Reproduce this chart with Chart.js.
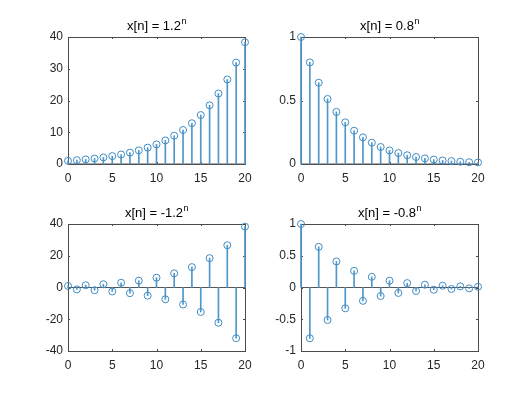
<!DOCTYPE html>
<html>
<head>
<meta charset="utf-8">
<script src="https://cdn.jsdelivr.net/npm/chart.js@4/dist/chart.umd.min.js"></script>
<style>
html,body{margin:0;padding:0;background:#fff;}
body{width:528px;height:395px;position:relative;overflow:hidden;}
canvas{position:absolute;}
</style>
</head>
<body>
<canvas id="c1"></canvas>
<canvas id="c2"></canvas>
<canvas id="c3"></canvas>
<canvas id="c4"></canvas>
<script>
// ---- data ----
const n = [0,1,2,3,4,5,6,7,8,9,10,11,12,13,14,15,16,17,18,19,20];
const growth = [1,1.2,1.44,1.73,2.07,2.49,2.99,3.58,4.3,5.16,6.19,7.43,8.92,10.7,12.84,15.41,18.49,22.19,26.62,31.95,38.34];
const decay = [1,0.8,0.64,0.512,0.41,0.328,0.262,0.21,0.168,0.134,0.107,0.086,0.069,0.055,0.044,0.035,0.028,0.023,0.018,0.014,0.012];
const altGrowth = [1,-1.2,1.44,-1.73,2.07,-2.49,2.99,-3.58,4.3,-5.16,6.19,-7.43,8.92,-10.7,12.84,-15.41,18.49,-22.19,26.62,-31.95,38.34];
const altDecay = [1,-0.8,0.64,-0.512,0.41,-0.328,0.262,-0.21,0.168,-0.134,0.107,-0.086,0.069,-0.055,0.044,-0.035,0.028,-0.023,0.018,-0.014,0.012];
const titleBase = ["x[n] = 1.2", "x[n] = 0.8", "x[n] = -1.2", "x[n] = -0.8"];
const titleSup = "n";
const xTicks = [0,5,10,15,20];
const yRanges = [[0,40,10],[0,1,0.5],[-40,40,20],[-1,1,0.5]];

// ---- layout ----
const boxes = [
  [68,37,245,164],
  [301,37,478,164],
  [68,224,245,351],
  [301,224,478,351]
];
const STEM = '#4f97cb';
const MARK = '#3f8cc4';
const AXC = '#4a4a4a';
const FONT = "'Liberation Sans', Arial, sans-serif";
const PADL = 45, PADT = 30, PADR = 16, PADB = 27;

const boxPlugin = {
  id: 'box',
  beforeDatasetsDraw(chart) {
    const {ctx, chartArea: a, scales} = chart;
    ctx.save();
    ctx.strokeStyle = AXC;
    ctx.lineWidth = 1;
    ctx.strokeRect(Math.round(a.left)+0.5, Math.round(a.top)+0.5, Math.round(a.right-a.left), Math.round(a.bottom-a.top));
    const tl = 2;
    ctx.beginPath();
    scales.x.ticks.forEach(t => {
      const px = Math.round(scales.x.getPixelForValue(t.value)) + 0.5;
      ctx.moveTo(px, a.bottom); ctx.lineTo(px, a.bottom - tl);
      ctx.moveTo(px, a.top); ctx.lineTo(px, a.top + tl);
    });
    scales.y.ticks.forEach(t => {
      const py = Math.round(scales.y.getPixelForValue(t.value)) + 0.5;
      ctx.moveTo(a.left, py); ctx.lineTo(a.left + tl, py);
      ctx.moveTo(a.right, py); ctx.lineTo(a.right - tl, py);
    });
    ctx.stroke();
    ctx.restore();
  },
  afterDatasetsDraw(chart, args, opts) {
    const {ctx, chartArea: a} = chart;
    ctx.save();
    const base = opts.base, sup = opts.sup;
    ctx.fillStyle = '#000';
    ctx.textBaseline = 'alphabetic';
    ctx.font = "13px " + FONT;
    const w1 = ctx.measureText(base).width;
    ctx.font = "9px " + FONT;
    const w2 = ctx.measureText(sup).width;
    const cx = (a.left + a.right) / 2;
    const x0 = cx - (w1 + w2) / 2;
    const by = a.top - 7;
    ctx.font = "13px " + FONT;
    ctx.textAlign = 'left';
    ctx.fillText(base, x0, by);
    ctx.font = "9px " + FONT;
    ctx.fillText(sup, x0 + w1 + 0.5, by - 6);
    ctx.restore();
  }
};

function makeChart(id, idx, values) {
  const [L,T,R,B] = boxes[idx];
  const cv = document.getElementById(id);
  const W = (R-L) + PADL + PADR, H = (B-T) + PADT + PADB;
  cv.style.left = (L-PADL) + 'px';
  cv.style.top = (T-PADT) + 'px';
  cv.style.width = W + 'px';
  cv.style.height = H + 'px';
  cv.width = W; cv.height = H;
  const pts = n.map((x,i) => ({x: x, y: values[i]}));
  const [ymin, ymax, ystep] = yRanges[idx];
  new Chart(cv, {
    type: 'bar',
    data: {
      datasets: [
        {type: 'line', data: pts, showLine: false, pointRadius: 3.5, pointHoverRadius: 3.5,
         pointBorderWidth: 1, pointBorderColor: MARK, pointBackgroundColor: 'rgba(0,0,0,0)', clip: false},
        {type: 'bar', data: pts, backgroundColor: STEM, borderWidth: 0, barThickness: 1, clip: false},
        {type: 'line', data: [{x: n[0], y: 0}, {x: n[n.length-1], y: 0}], borderColor: '#555555',
         borderWidth: 1, pointRadius: 0, clip: false}
      ]
    },
    options: {
      responsive: false,
      animation: false,
      devicePixelRatio: 1,
      events: [],
      layout: {padding: {left: 0, top: PADT, right: PADR, bottom: 0}},
      plugins: {legend: {display: false}, tooltip: {enabled: false}, title: {display: false},
                box: {base: titleBase[idx], sup: titleSup}},
      scales: {
        x: {
          type: 'linear', offset: false, min: 0, max: 20,
          grid: {display: false, drawTicks: false}, border: {display: false},
          afterBuildTicks: s => { s.ticks = xTicks.map(v => ({value: v})); },
          afterFit: s => { s.height = PADB; },
          ticks: {padding: 7, color: '#262626', font: {family: FONT, size: 12}, maxRotation: 0, autoSkip: false}
        },
        y: {
          min: ymin, max: ymax,
          grid: {display: false, drawTicks: false}, border: {display: false},
          afterFit: s => { s.width = PADL; },
          ticks: {stepSize: ystep, padding: 5, color: '#262626', font: {family: FONT, size: 12},
                  callback: v => String(+Number(v).toFixed(2))}
        }
      }
    },
    plugins: [boxPlugin]
  });
}

makeChart('c1', 0, growth);
makeChart('c2', 1, decay);
makeChart('c3', 2, altGrowth);
makeChart('c4', 3, altDecay);
</script>
</body>
</html>
